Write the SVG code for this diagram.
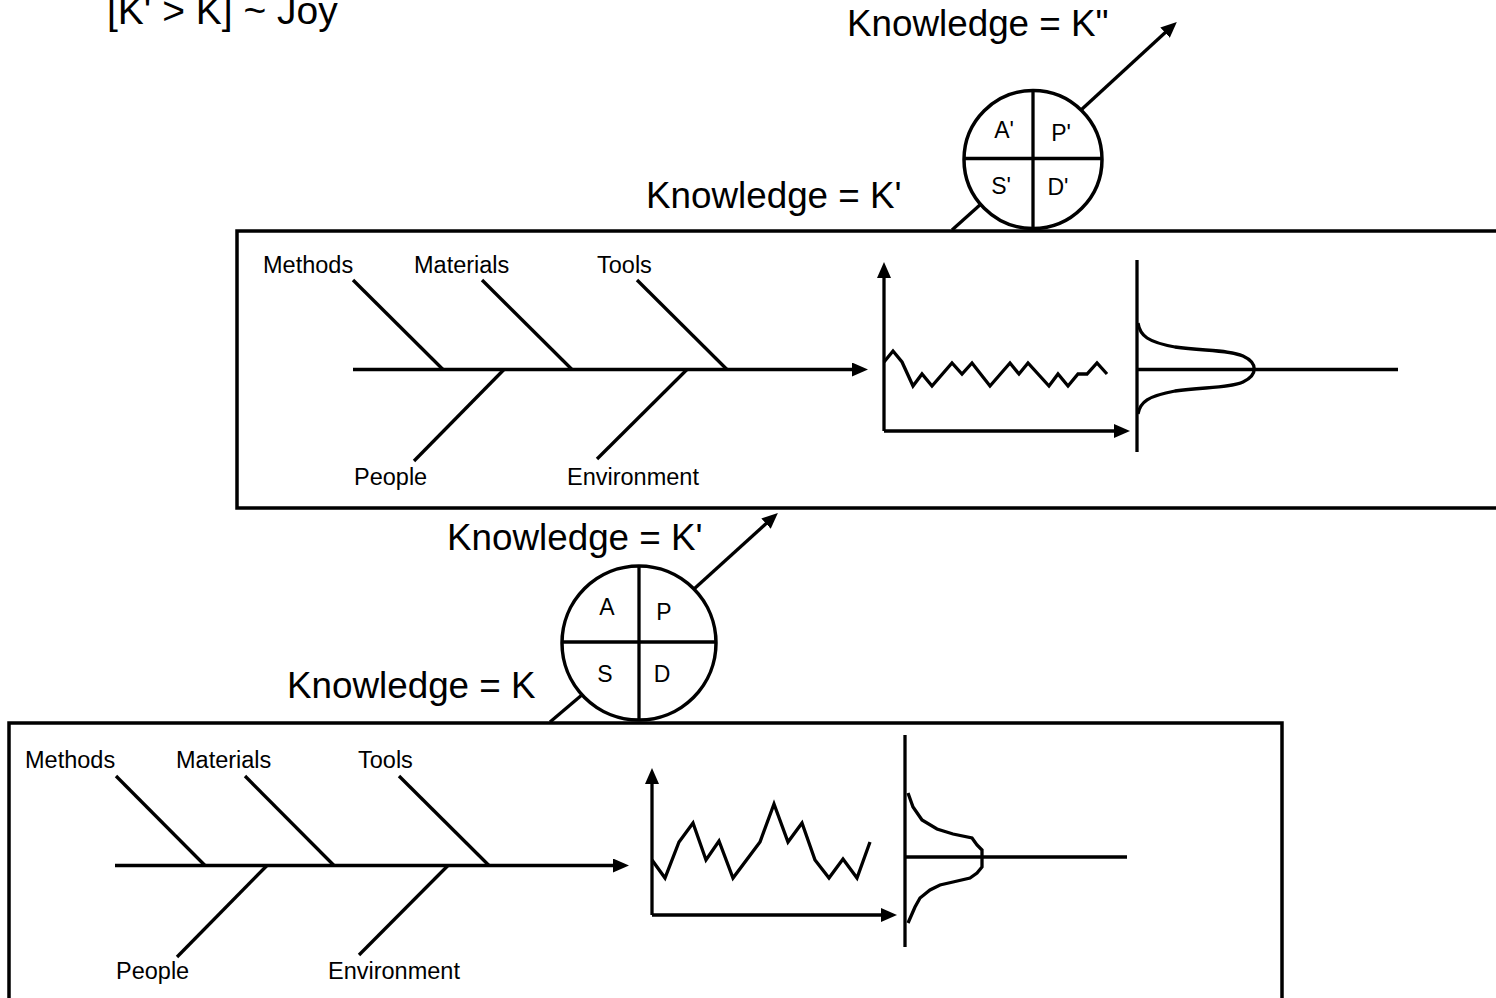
<svg xmlns="http://www.w3.org/2000/svg" width="1496" height="998" viewBox="0 0 1496 998">
  <style>
    .ln { fill: none; stroke: #000; stroke-width: 3.3; stroke-linejoin: miter; }
    .box { fill: #fff; stroke: #000; stroke-width: 3.5; }
    .pdca { fill: #fff; stroke: #000; stroke-width: 3.5; }
    .arr { marker-end: url(#head); }
    .big { font-family: "Liberation Sans", Arial, sans-serif; font-size: 36.8px; fill: #000; }
    .title { font-family: "Liberation Sans", Arial, sans-serif; font-size: 39px; fill: #000; }
    .lbl { font-family: "Liberation Sans", Arial, sans-serif; font-size: 23.5px; fill: #000; }
    .q { font-family: "Liberation Sans", Arial, sans-serif; font-size: 23px; fill: #000; text-anchor: middle; }
  </style>
  <defs>
    <marker id="head" viewBox="0 0 16 14" refX="4" refY="7" markerWidth="16" markerHeight="14" markerUnits="userSpaceOnUse" orient="auto">
      <path d="M0,0 L16,7 L0,14 z" fill="#000"/>
    </marker>
  </defs>

  <rect width="1496" height="998" fill="#fff"/>

  <!-- title -->
  <text id="title" class="title" x="107" y="24">[K' &gt; K] ~ Joy</text>

  <!-- lower process: cause-and-effect, run chart, distribution -->
  <g id="process-k">
    <rect class="box" x="9" y="723" width="1273" height="290"/>
    <line class="ln arr" x1="115" y1="865.5" x2="617" y2="865.5"/>
    <line class="ln" x1="116" y1="776" x2="205" y2="865.5"/>
    <line class="ln" x1="245" y1="776" x2="334" y2="865.5"/>
    <line class="ln" x1="399" y1="776" x2="489" y2="865.5"/>
    <line class="ln" x1="267" y1="865.5" x2="177" y2="957"/>
    <line class="ln" x1="448" y1="865.5" x2="359" y2="955"/>
    <text class="lbl" x="25" y="768">Methods</text>
    <text class="lbl" x="176" y="768">Materials</text>
    <text class="lbl" x="358" y="768">Tools</text>
    <text class="lbl" x="116" y="979">People</text>
    <text class="lbl" x="328" y="979">Environment</text>
    <!-- run chart -->
    <line class="ln arr" x1="652" y1="915" x2="652" y2="780"/>
    <line class="ln arr" x1="652" y1="915" x2="885" y2="915"/>
    <polyline class="ln" points="652,860 665,878 679,842 693,823 706,860 719,841 733,878 760,842 774,804 788,842 802,823 815,860 829,878 843,859 857,878 870,842"/>
    <!-- distribution -->
    <line class="ln" x1="905" y1="735" x2="905" y2="947"/>
    <line class="ln" x1="905" y1="857" x2="1127" y2="857"/>
    <polyline class="ln" points="908,793 913,807 922,820 937,829 953,834 972,838 977,845 982,850 982,867 977,873 970,878 953,882 940,885 930,890 920,898 915,907 908,923"/>
  </g>

  <!-- upper process: cause-and-effect, run chart, distribution -->
  <g id="process-k1">
    <rect class="box" x="237" y="231" width="1275" height="277"/>
    <line class="ln arr" x1="353" y1="369.5" x2="856" y2="369.5"/>
    <line class="ln" x1="353" y1="280" x2="443" y2="369.5"/>
    <line class="ln" x1="482" y1="280" x2="572" y2="369.5"/>
    <line class="ln" x1="637" y1="280" x2="727" y2="369.5"/>
    <line class="ln" x1="504" y1="369.5" x2="414" y2="461"/>
    <line class="ln" x1="687" y1="369.5" x2="597" y2="459"/>
    <text class="lbl" x="263" y="273">Methods</text>
    <text class="lbl" x="414" y="273">Materials</text>
    <text class="lbl" x="597" y="273">Tools</text>
    <text class="lbl" x="354" y="485">People</text>
    <text class="lbl" x="567" y="485">Environment</text>
    <!-- run chart -->
    <line class="ln arr" x1="884" y1="431" x2="884" y2="274"/>
    <line class="ln arr" x1="884" y1="431" x2="1118" y2="431"/>
    <polyline class="ln" points="884,362 893,351 902,362 913,386 922,374 932,386 952,363 962,374 972,363 990,386 1010,363 1019,374 1028,363 1049,386 1058,374 1068,386 1078,374 1087,374 1097,363 1107,374"/>
    <!-- distribution -->
    <line class="ln" x1="1137" y1="260" x2="1137" y2="452"/>
    <line class="ln" x1="1137" y1="369.5" x2="1398" y2="369.5"/>
    <path class="ln" d="M1138,323 C1140,336 1148,342 1175,347 C1205,351 1230,350 1243,356 C1258,363 1258,375 1243,382 C1230,388 1205,387 1175,391 C1148,396 1140,402 1138,414"/>
  </g>

  <!-- knowledge flow -->
  <g id="connectors">
    <line class="ln" x1="550" y1="722" x2="583" y2="694"/>
    <line class="ln arr" x1="694" y1="589" x2="769" y2="521"/>
    <line class="ln" x1="952" y1="230" x2="981" y2="204"/>
    <line class="ln arr" x1="1081" y1="110" x2="1168" y2="30"/>
  </g>

  <!-- PDCA wheel, first cycle -->
  <g id="pdca-k">
    <circle class="pdca" cx="639" cy="643" r="77"/>
    <line class="ln" x1="639" y1="566" x2="639" y2="720"/>
    <line class="ln" x1="562" y1="642" x2="716" y2="642"/>
    <text class="q" x="607" y="615">A</text>
    <text class="q" x="664" y="620">P</text>
    <text class="q" x="605" y="682">S</text>
    <text class="q" x="662" y="682">D</text>
  </g>

  <!-- PDCA wheel, second cycle -->
  <g id="pdca-k1">
    <circle class="pdca" cx="1033" cy="159.5" r="69"/>
    <line class="ln" x1="1033" y1="90.5" x2="1033" y2="228.5"/>
    <line class="ln" x1="964" y1="158.5" x2="1102" y2="158.5"/>
    <text class="q" x="1004" y="138">A'</text>
    <text class="q" x="1061" y="141">P'</text>
    <text class="q" x="1001" y="194">S'</text>
    <text class="q" x="1058" y="195">D'</text>
  </g>

  <!-- knowledge levels -->
  <g id="knowledge-labels">
    <text class="big" x="287" y="697.5">Knowledge = K</text>
    <text class="big" x="447" y="550">Knowledge = K'</text>
    <text class="big" x="646" y="207.5">Knowledge = K'</text>
    <text class="big" x="847" y="36">Knowledge = K"</text>
  </g>
</svg>
